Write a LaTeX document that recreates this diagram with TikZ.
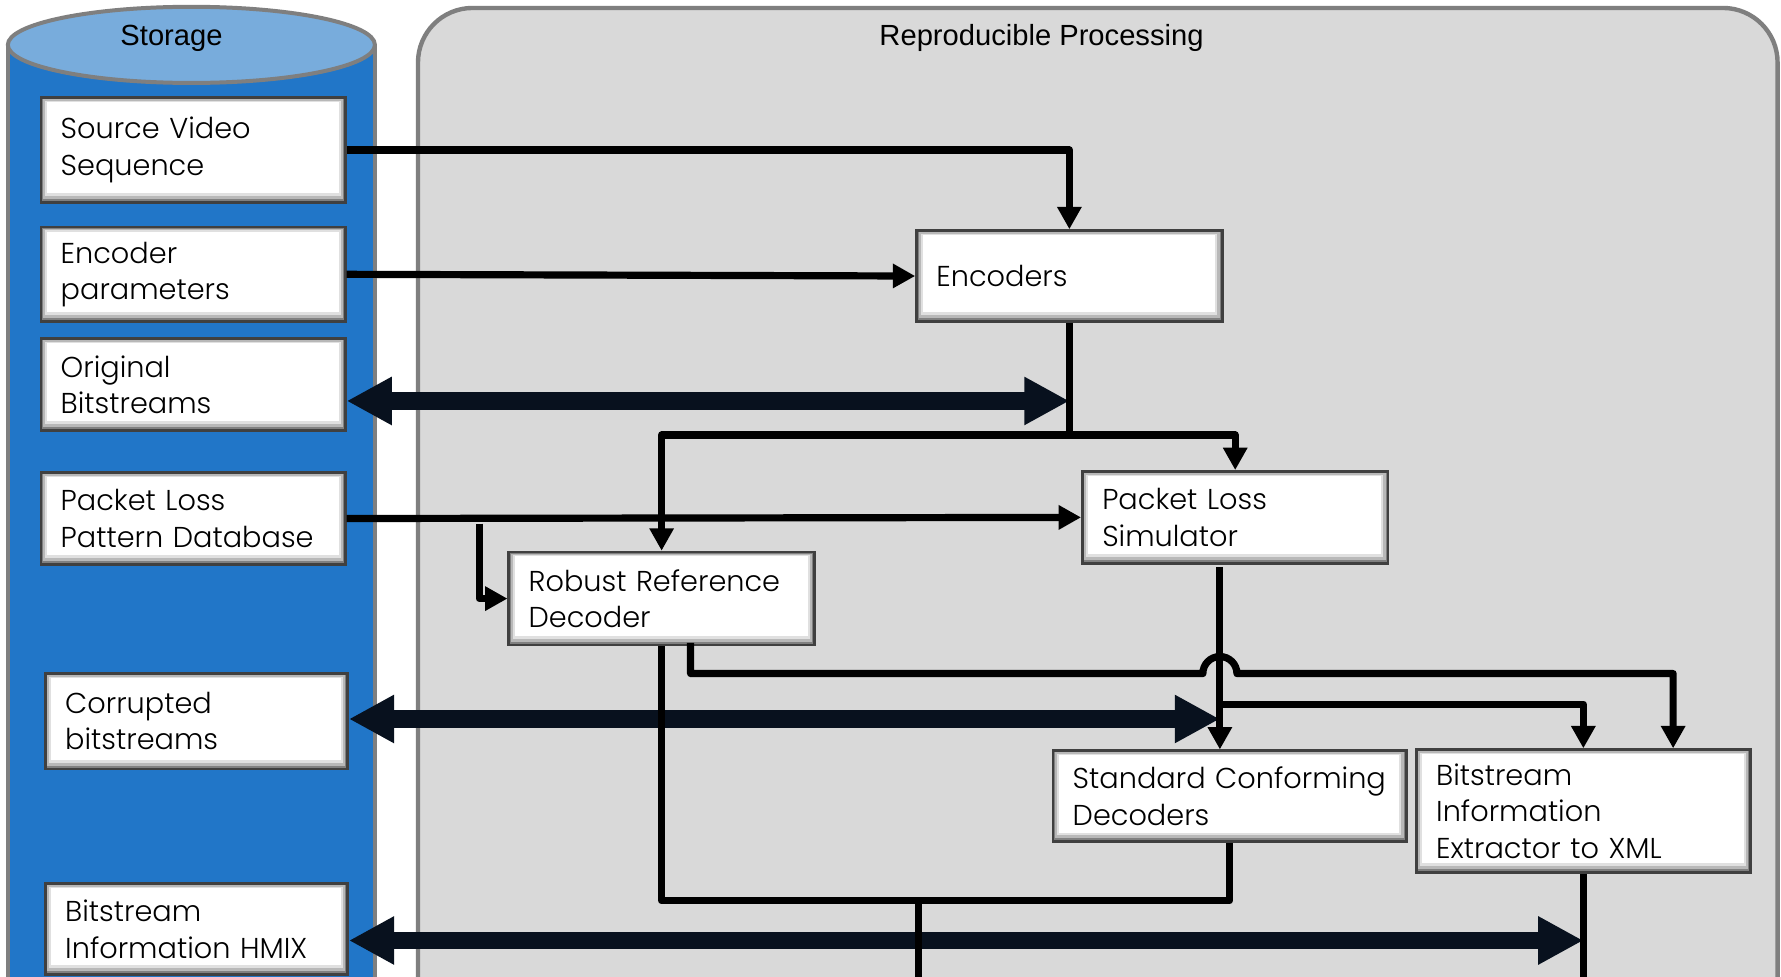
\documentclass[tikz,border=0pt]{standalone}
\usepackage{fontspec}
\setmainfont{Poppins}[UprightFont={* Light}]
\newfontfamily\labelfont{Liberation Sans}
\usetikzlibrary{arrows.meta,calc}

\definecolor{drumblue}{HTML}{2176C8}
\definecolor{drumtop}{HTML}{78ACDC}
\definecolor{rimgray}{HTML}{7F7F7F}
\definecolor{panelgray}{HTML}{D9D9D9}
\definecolor{busnavy}{HTML}{08111E}

\tikzset{
  bevel/.style={path picture={
    \fill[black!50] (path picture bounding box.south west) rectangle (path picture bounding box.north east);
    \fill[black!28] ([shift={(0.5pt,0.8pt)}]path picture bounding box.south west) rectangle ([shift={(-0.6pt,-0.4pt)}]path picture bounding box.north east);
    \fill[black!12] ([shift={(1pt,1.6pt)}]path picture bounding box.south west) rectangle ([shift={(-1.2pt,-0.8pt)}]path picture bounding box.north east);
    \fill[white] ([shift={(1.5pt,2.3pt)}]path picture bounding box.south west) rectangle ([shift={(-1.7pt,-1.1pt)}]path picture bounding box.north east);
  }},
  procbox/.style={draw=black!75, line width=0.65pt, bevel, align=left,
    inner xsep=0.175cm, inner ysep=0pt,
    font=\fontsize{7.2pt}{9.1pt}\selectfont},
  title/.style={font=\labelfont\fontsize{7.3pt}{9pt}\selectfont, anchor=base, inner sep=0pt},
  wire/.style={line width=1.8pt, black, line join=round},
  tip/.tip={Triangle[length=5.6pt,width=5.8pt]},
  bus/.style={line width=4.3pt, busnavy,
    {Triangle[length=11.3pt,width=11.3pt]}-{Triangle[length=11.3pt,width=11.3pt]}},
}

\begin{document}
\begin{tikzpicture}[x=0.01cm, y=-0.01cm]
\useasboundingbox (0,0) rectangle (1568,860);
\clip (0,0) rectangle (1568,860);
\fill[white] (0,0) rectangle (1568,860);

% storage drum
\fill[drumblue] (7,39.5) rectangle (330,900);
\draw[rimgray, line width=1pt] (7,39.5) -- (7,900) (330,39.5) -- (330,900);
\draw[rimgray, line width=1pt, fill=drumtop] (168.5,39.5) ellipse [x radius=1.615cm, y radius=0.335cm];
\node[title] (storagetitle) at (151,40) {Storage};

% processing panel
\draw[rimgray, line width=1.1pt, fill=panelgray, rounded corners=0.48cm] (368,7) rectangle (1565,920);
\node[title] (proctitle) at (917,40) {Reproducible Processing};

% storage items
\node[procbox, text width=2.33cm, minimum height=0.92cm] (SV) at (170,132) {\mbox{Source Video}\\Sequence};
\node[procbox, text width=2.33cm, minimum height=0.83cm] (EP) at (170,241.5) {Encoder\\parameters};
\node[procbox, text width=2.33cm, minimum height=0.81cm] (OB) at (170,338.5) {Original\\Bitstreams};
\node[procbox, text width=2.33cm, minimum height=0.81cm] (PD) at (170,456.5) {Packet Loss\\\mbox{Pattern Database}};
\node[procbox, text width=2.31cm, minimum height=0.84cm] (CB) at (173,635) {Corrupted\\bitstreams};
\node[procbox, text width=2.31cm, minimum height=0.80cm] (HM) at (173,818) {Bitstream\\\mbox{Information HMIX}};

% processing stages
\node[procbox, text width=2.34cm, minimum height=0.80cm] (Enc) at (941.5,243) {Encoders};
\node[procbox, text width=2.34cm, minimum height=0.81cm] (PLS) at (1087.5,455.5) {Packet Loss\\Simulator};
\node[procbox, text width=2.34cm, minimum height=0.82cm] (RRD) at (582.5,527) {\mbox{Robust Reference}\\Decoder};
\node[procbox, text width=2.76cm, minimum height=0.80cm] (SCD) at (1082.5,701) {\mbox{Standard Conforming}\\Decoders};
\node[procbox, text width=2.59cm, minimum height=1.08cm] (BIE) at (1394,714) {Bitstream\\Information\\\mbox{Extractor to XML}};

% bend and tap points
\coordinate (pdtap) at (422,461);
\coordinate (encj) at (941.5,383);
\coordinate (plsout) at (1074,499);
\coordinate (plsj) at (1074,620);
\coordinate (rrdside) at (608,566);
\coordinate (hopl) at (1059,593);
\coordinate (merge) at (809,793);
\coordinate (lowexit) at (809,900);
\coordinate (obport) at ([yshift=-0.145cm]OB.east);
\coordinate (cbport) at ([yshift=0.02cm]CB.east);
\coordinate (hmport) at ([yshift=-0.1cm]HM.east);

% two-way storage buses
\draw[bus] (obport) -- (obport -| Enc.south);
\draw[bus] (cbport) -- (cbport -| plsout);
\draw[bus] (hmport) -- (hmport -| BIE.south);

% data flow
\draw[wire, -tip] (SV.east) -| (Enc.north);
\draw[wire, -tip] (EP.east) -- (Enc.west);
\draw[wire, -tip] (PD.east) -- (PLS.west);
\draw[wire, -tip] (pdtap) |- (RRD.west);
\draw[wire] (Enc.south) -- (encj);
\draw[wire, -tip] (encj) -| (RRD.north);
\draw[wire, -tip] (encj) -| (PLS.north);
\draw[wire, -tip] (plsout) -- (plsout |- SCD.north);
\draw[wire, -tip] (plsj) -| (BIE.north);
\draw[wire, -tip] (rrdside) |- (hopl) arc[start angle=180, end angle=0, radius=0.15cm] -| ([xshift=0.79cm]BIE.north);
\draw[wire] (RRD.south) |- (merge) -| (SCD.south);
\draw[wire] (merge) -- (lowexit);
\draw[wire] (BIE.south) -- (BIE.south |- lowexit);
\end{tikzpicture}
\end{document}
